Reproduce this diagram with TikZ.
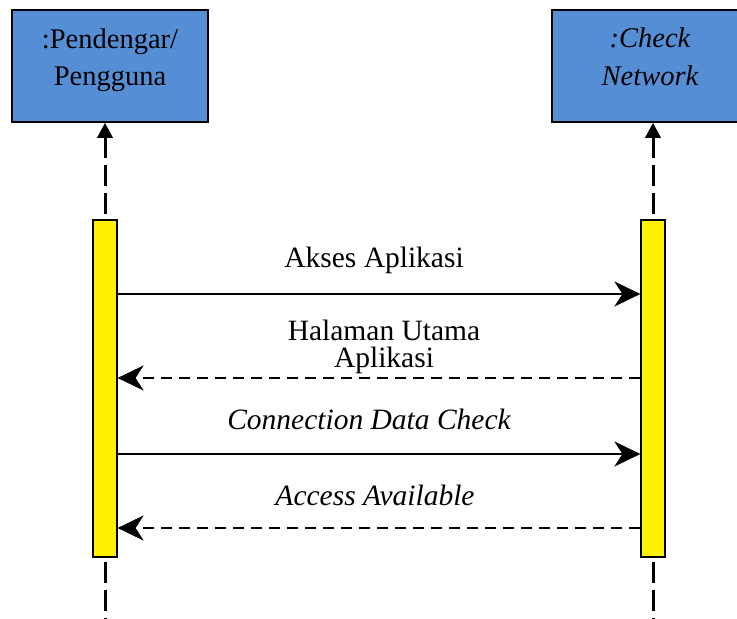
\documentclass[tikz,border=0pt]{standalone}
\usepackage{fontspec}
\setmainfont{Liberation Serif}
\usetikzlibrary{arrows.meta}
\definecolor{boxblue}{RGB}{85,142,213}
\begin{document}
\begin{tikzpicture}[x=1pt,y=-1pt,
 actor/.style={draw=black, line width=1.5pt, fill=boxblue, minimum width=196pt, minimum height=112pt, inner sep=0pt},
 actbar/.style={draw=black, line width=1.2pt, fill=yellow, minimum width=24pt, minimum height=337pt, inner sep=0pt},
 lifeline/.style={line width=3pt, dash pattern=on 21pt off 7pt},
 boxlabel/.style={font=\fontsize{28.5}{34}\selectfont, anchor=base, inner sep=0pt},
 msglabel/.style={font=\fontsize{29.5}{30}\selectfont, anchor=base, inner sep=0pt},
 call/.style={line width=2pt, -{Stealth[length=26pt,width=25pt,inset=8pt]}},
 reply/.style={call, dash pattern=on 11pt off 7pt},
 lifetip/.style={{Triangle[length=15pt,width=15pt]}-},
]
\useasboundingbox (0,0) rectangle (737,619);
% actor boxes
\node[actor] (boxL) at (110,66) {};
\node[actor] (boxR) at (650,66) {};
\node[boxlabel] (tL1) at (110,48) {:Pendengar/};
\node[boxlabel] (tL2) at (110,85) {Pengguna};
\node[boxlabel] (tR1) at (650,47) {\itshape :Check};
\node[boxlabel] (tR2) at (650,85) {\itshape Network};
% activation bars
\node[actbar] (barL) at (105,388.5) {};
\node[actbar] (barR) at (653,388.5) {};
% lifelines
\draw[lifeline, lifetip] (barL.north |- boxL.south) -- (barL.north);
\draw[lifeline, lifetip] (barR.north |- boxR.south) -- (barR.north);
\coordinate (endL) at (105,619);
\coordinate (endR) at (653,619);
\draw[lifeline, dash phase=24pt] (barL.south) -- (endL);
\draw[lifeline, dash phase=24pt] (barR.south) -- (endR);
% messages
\draw[call] (barL.east |- 0,294) -- (barR.west |- 0,294);
\draw[reply] (barR.west |- 0,378) -- (barL.east |- 0,378);
\draw[call] (barL.east |- 0,454) -- (barR.west |- 0,454);
\draw[reply] (barR.west |- 0,528) -- (barL.east |- 0,528);
% labels
\node[msglabel] (m1) at (374,267) {Akses Aplikasi};
\node[msglabel] (m2a) at (384,340) {Halaman Utama};
\node[msglabel] (m2b) at (384,367) {Aplikasi};
\node[msglabel] (m3) at (369,429) {\itshape Connection Data Check};
\node[msglabel] (m4) at (375,505) {\itshape Access Available};
\end{tikzpicture}
\end{document}
